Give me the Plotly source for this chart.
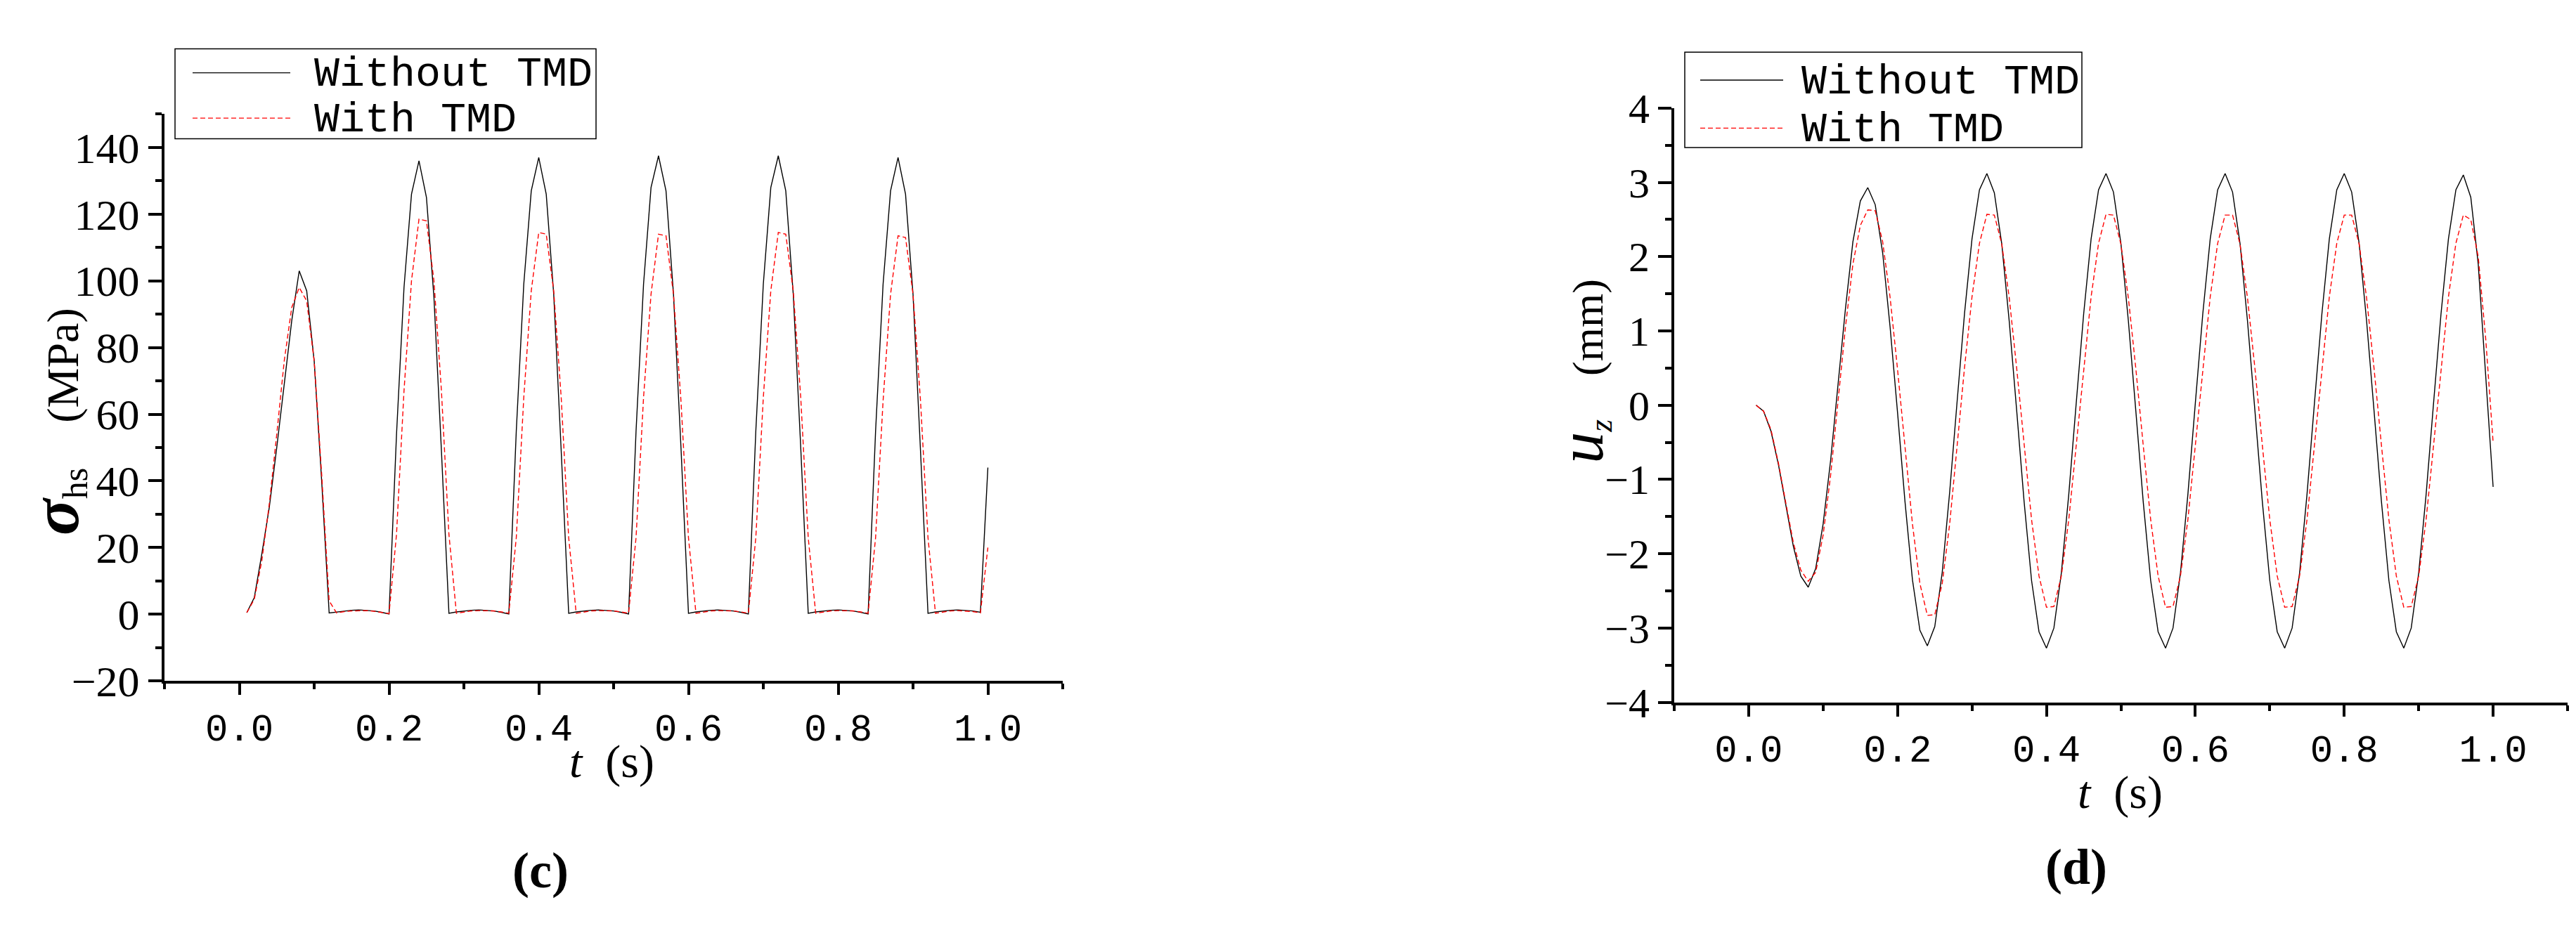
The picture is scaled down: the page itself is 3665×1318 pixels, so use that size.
import plotly.graph_objects as go

# DATA

t = [0.01, 0.02, 0.03, 0.04, 0.05, 0.06, 0.07, 0.08, 0.09, 0.10,
     0.11, 0.12, 0.13, 0.14, 0.15, 0.16, 0.17, 0.18, 0.19, 0.20,
     0.21, 0.22, 0.23, 0.24, 0.25, 0.26, 0.27, 0.28, 0.29, 0.30,
     0.31, 0.32, 0.33, 0.34, 0.35, 0.36, 0.37, 0.38, 0.39, 0.40,
     0.41, 0.42, 0.43, 0.44, 0.45, 0.46, 0.47, 0.48, 0.49, 0.50,
     0.51, 0.52, 0.53, 0.54, 0.55, 0.56, 0.57, 0.58, 0.59, 0.60,
     0.61, 0.62, 0.63, 0.64, 0.65, 0.66, 0.67, 0.68, 0.69, 0.70,
     0.71, 0.72, 0.73, 0.74, 0.75, 0.76, 0.77, 0.78, 0.79, 0.80,
     0.81, 0.82, 0.83, 0.84, 0.85, 0.86, 0.87, 0.88, 0.89, 0.90,
     0.91, 0.92, 0.93, 0.94, 0.95, 0.96, 0.97, 0.98, 0.99, 1.00]

# panel (c): hot-spot stress, MPa
stress_without = [0.5, 5, 18, 32, 50, 69, 88, 103, 97, 76,
                  40, 0.4, 0.7, 1.0, 1.2, 1.3, 1.2, 1.0, 0.6, 0.1,
                  54, 98, 126, 136, 125, 95, 49, 0.3, 0.7, 1.0,
                  1.2, 1.3, 1.2, 1.0, 0.6, 0.1, 55, 99, 127, 137,
                  126, 96, 49, 0.3, 0.7, 1.0, 1.2, 1.3, 1.2, 1.0,
                  0.6, 0.1, 55, 99, 128, 137.5, 127, 96, 50, 0.3,
                  0.7, 1.0, 1.2, 1.3, 1.2, 1.0, 0.6, 0.1, 55, 99,
                  128, 137.5, 127, 96, 50, 0.3, 0.7, 1.0, 1.2, 1.3,
                  1.2, 1.0, 0.6, 0.1, 55, 99, 127, 137, 126, 96,
                  49, 0.3, 0.7, 1.0, 1.2, 1.3, 1.2, 1.0, 0.6, 44]

stress_with = [0.5, 4.5, 16, 33, 54, 76, 92, 98, 94, 76,
               42, 4, 0.4, 0.8, 1.0, 1.1, 1.1, 0.9, 0.6, 0.2,
               24, 67, 100, 118.5, 118, 100, 67, 24, 0.3, 0.7,
               1.0, 1.1, 1.1, 1.0, 0.7, 0.3, 23, 65, 97, 114.5,
               114, 97, 65, 23, 0.3, 0.7, 1.0, 1.1, 1.1, 1.0,
               0.7, 0.3, 23, 65, 96, 114, 113.5, 96, 64, 23,
               0.3, 0.7, 1.0, 1.1, 1.1, 1.0, 0.7, 0.3, 23, 65,
               97, 114.5, 114, 97, 65, 23, 0.3, 0.7, 1.0, 1.1,
               1.1, 1.0, 0.7, 0.3, 23, 64, 96, 113.5, 113, 96,
               64, 23, 0.3, 0.7, 1.0, 1.1, 1.0, 0.8, 0.4, 20]

# panel (d): vertical displacement, mm
uz_without = [0.0, -0.08, -0.35, -0.8, -1.35, -1.9, -2.3, -2.45, -2.2, -1.6,
              -0.75, 0.25, 1.3, 2.2, 2.75, 2.93, 2.7, 2.05, 1.05, -0.1,
              -1.3, -2.35, -3.03, -3.24, -2.98, -2.25, -1.17, 0.05, 1.24, 2.24,
              2.9, 3.12, 2.86, 2.17, 1.13, -0.07, -1.3, -2.36, -3.05, -3.27,
              -3.0, -2.26, -1.2, 0.03, 1.23, 2.24, 2.9, 3.12, 2.87, 2.18,
              1.14, -0.07, -1.3, -2.36, -3.05, -3.27, -3.0, -2.26, -1.2, 0.03,
              1.23, 2.24, 2.9, 3.12, 2.87, 2.18, 1.14, -0.07, -1.3, -2.36,
              -3.05, -3.27, -3.0, -2.26, -1.2, 0.03, 1.23, 2.24, 2.9, 3.12,
              2.87, 2.18, 1.14, -0.07, -1.3, -2.36, -3.05, -3.27, -3.0, -2.26,
              -1.2, 0.03, 1.23, 2.24, 2.9, 3.1, 2.8, 1.9, 0.45, -1.1]

uz_with = [0.0, -0.08, -0.33, -0.78, -1.32, -1.85, -2.22, -2.37, -2.25, -1.75,
           -0.95, 0.05, 1.05, 1.9, 2.42, 2.63, 2.62, 2.2, 1.45, 0.48,
           -0.56, -1.6, -2.4, -2.83, -2.82, -2.4, -1.6, -0.56, 0.51, 1.46,
           2.18, 2.57, 2.56, 2.17, 1.45, 0.5, -0.54, -1.54, -2.3, -2.72,
           -2.71, -2.3, -1.54, -0.54, 0.51, 1.46, 2.18, 2.57, 2.56, 2.17,
           1.45, 0.5, -0.54, -1.54, -2.3, -2.72, -2.71, -2.3, -1.54, -0.54,
           0.51, 1.46, 2.18, 2.56, 2.56, 2.17, 1.45, 0.5, -0.54, -1.54,
           -2.3, -2.72, -2.71, -2.3, -1.54, -0.54, 0.51, 1.46, 2.18, 2.56,
           2.56, 2.17, 1.45, 0.5, -0.54, -1.54, -2.3, -2.72, -2.71, -2.3,
           -1.54, -0.54, 0.51, 1.46, 2.18, 2.56, 2.5, 2.0, 0.9, -0.5]

series_names = ["Without TMD", "With TMD"]

# LAYOUT HELPERS

W, H = 3665, 1318
SERIF = "Liberation Serif"
MONO = "Liberation Mono"


def px(x):
    return x / W


def py(y):
    return 1 - y / H


def x_axis(left, right, anchor):
    return dict(domain=[px(left), px(right)], range=[-0.1, 1.1], anchor=anchor,
                dtick=0.2, tick0=0, tickformat=".1f",
                showline=True, linecolor="black", linewidth=4,
                ticks="outside", ticklen=16, tickwidth=4, tickcolor="black",
                minor=dict(ticks="outside", dtick=0.1, tick0=0, ticklen=8,
                           tickwidth=4, tickcolor="black"),
                tickfont=dict(family=MONO, size=54, color="black"),
                showgrid=False, zeroline=False)


def y_axis(top, bottom, anchor, rng, major, minor, fsize):
    return dict(domain=[py(bottom), py(top)], range=rng, anchor=anchor,
                dtick=major, tick0=0,
                showline=True, linecolor="black", linewidth=4,
                ticks="outside", ticklen=19, tickwidth=4, tickcolor="black",
                minor=dict(ticks="outside", dtick=minor, tick0=0, ticklen=9,
                           tickwidth=4, tickcolor="black"),
                tickfont=dict(family=SERIF, size=fsize, color="black"),
                showgrid=False, zeroline=False)


black_line = dict(color="black", width=1.4)
red_line = dict(color="red", width=1.4, dash="7px,4px")

fig = go.Figure()
fig.add_trace(go.Scatter(x=t, y=stress_without, name=series_names[0], mode="lines",
                         line=black_line, xaxis="x", yaxis="y"))
fig.add_trace(go.Scatter(x=t, y=stress_with, name=series_names[1], mode="lines",
                         line=red_line, xaxis="x", yaxis="y"))
fig.add_trace(go.Scatter(x=t, y=uz_without, name=series_names[0], mode="lines",
                         line=black_line, xaxis="x2", yaxis="y2"))
fig.add_trace(go.Scatter(x=t, y=uz_with, name=series_names[1], mode="lines",
                         line=red_line, xaxis="x2", yaxis="y2"))

# hand-drawn legend boxes (long sample lines like the original)
shapes = []
annotations = []
legends = [
    # box l, t, r, b, line x0, x1, row y, text x
    (241, 31, 840, 166, 266, 405, (67, 135), 441),
    (2389, 36, 2954, 179, 2411, 2529, (78, 150), 2557),
]
for bl, bt, br, bb, lx0, lx1, rows, tx in legends:
    shapes.append(dict(type="rect", xref="paper", yref="paper",
                       x0=px(bl), x1=px(br), y0=py(bb), y1=py(bt),
                       line=dict(color="black", width=1.5)))
    for i, (row, ln) in enumerate(zip(rows, [black_line, red_line])):
        shapes.append(dict(type="line", xref="paper", yref="paper",
                           x0=px(lx0), x1=px(lx1), y0=py(row), y1=py(row),
                           line=ln))
        annotations.append(dict(text=series_names[i], xref="paper", yref="paper",
                                x=px(tx - 4), y=py(row + 3), xanchor="left", yanchor="middle",
                                showarrow=False,
                                font=dict(family=MONO, size=60, color="black")))

# axis titles and captions
title_font = dict(family=SERIF, size=66, color="black")
annotations += [
    dict(text="<i>t</i>\u2002(s)", x=px(862), y=py(1100), font=title_font),
    dict(text="<i>t</i>\u2002(s)", x=px(3008), y=py(1146), font=title_font),
    dict(text="<span style='font-size:96px'><b><i>σ</i></b></span>"
              "<sub><span style='font-size:50px'>hs</span></sub>\u2003(MPa)",
         x=px(72), y=py(590), textangle=-90, font=dict(family=SERIF, size=64, color="black")),
    dict(text="<span style='font-size:90px'><i>u</i></span>"
              "<sub><span style='font-size:46px'><i>z</i></span></sub>\u2003(mm)",
         x=px(2244), y=py(515), textangle=-90, font=dict(family=SERIF, size=62, color="black")),
    dict(text="<b>(c)</b>", x=px(761), y=py(1263), font=dict(family=SERIF, size=72, color="black")),
    dict(text="<b>(d)</b>", x=px(2946), y=py(1258), font=dict(family=SERIF, size=72, color="black")),
]
for a in annotations[-6:]:
    a.update(xref="paper", yref="paper", xanchor="center", yanchor="middle", showarrow=False)

fig.update_layout(
    width=W, height=H, autosize=False,
    margin=dict(l=0, r=0, t=0, b=0),
    paper_bgcolor="white", plot_bgcolor="white",
    showlegend=False,
    xaxis=x_axis(226, 1504, "y"),
    yaxis=y_axis(129, 979, "x", [-20, 150], 20, 10, 62),
    xaxis2=x_axis(2374, 3645, "y2"),
    yaxis2=y_axis(120, 1011, "x2", [-4, 4], 1, 0.5, 60),
    shapes=shapes,
    annotations=annotations,
)

fig.write_html("out.html")
